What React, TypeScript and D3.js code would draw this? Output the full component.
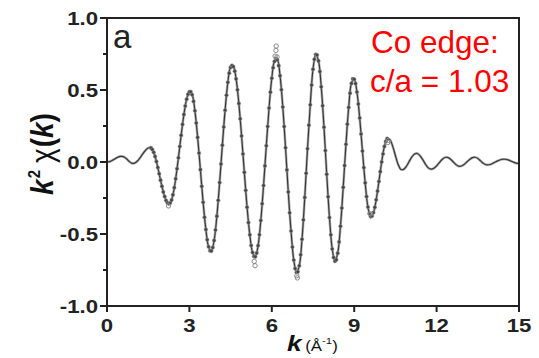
import React from 'react';
import * as d3 from 'd3';

const W = 539;
const H = 358;

// axis ticks
const xTicks = [0, 3, 6, 9, 12, 15];
const yTicks = [-1.0, -0.5, 0.0, 0.5, 1.0];
const yMinorTicks = [-0.75, -0.25, 0.25, 0.75];

// fit line: k from 0 to 15, step 0.1
const fitStartK = 0;
const fitStepK = 0.1;
const fitValues = [
  0, 0.003, 0.012, 0.023, 0.034, 0.039, 0.037, 0.024, 0.005, -0.008,
  -0.008, 0.005, 0.028, 0.056, 0.08, 0.097, 0.098, 0.067, 0.003, -0.082,
  -0.169, -0.24, -0.283, -0.285, -0.228, -0.117, 0.029, 0.186, 0.33, 0.436,
  0.487, 0.467, 0.356, 0.171, -0.053, -0.28, -0.469, -0.589, -0.618, -0.545,
  -0.376, -0.143, 0.117, 0.36, 0.553, 0.657, 0.662, 0.577, 0.407, 0.181,
  -0.072, -0.314, -0.506, -0.628, -0.658, -0.581, -0.406, -0.163, 0.113, 0.375,
  0.582, 0.699, 0.71, 0.599, 0.382, 0.099, -0.208, -0.479, -0.681, -0.767,
  -0.721, -0.536, -0.246, 0.092, 0.397, 0.644, 0.747, 0.702, 0.522, 0.242,
  -0.085, -0.386, -0.604, -0.689, -0.633, -0.446, -0.176, 0.123, 0.379, 0.546,
  0.575, 0.486, 0.306, 0.076, -0.145, -0.313, -0.379, -0.352, -0.263, -0.135,
  0.0, 0.108, 0.162, 0.155, 0.11, 0.045, -0.017, -0.052, -0.051, -0.03,
  0.003, 0.035, 0.056, 0.059, 0.043, 0.015, -0.017, -0.041, -0.05, -0.044,
  -0.027, -0.004, 0.017, 0.031, 0.032, 0.021, 0.002, -0.017, -0.029, -0.028,
  -0.017, 0.0, 0.017, 0.03, 0.033, 0.025, 0.008, -0.009, -0.019, -0.019,
  -0.014, -0.004, 0.006, 0.014, 0.019, 0.019, 0.015, 0.007, -0.001, -0.008,
  -0.01,
];

// measured data points: k from 1.6 to 10.2, step 0.05
const dataStartK = 1.6;
const dataStepK = 0.05;
const dataValues = [
  0.098, 0.087, 0.067, 0.038, 0.003, -0.038, -0.082, -0.126, -0.169, -0.208,
  -0.24, -0.267, -0.283, -0.29, -0.285, -0.264, -0.228, -0.178, -0.117, -0.047,
  0.029, 0.108, 0.186, 0.261, 0.33, 0.389, 0.436, 0.47, 0.487, 0.488,
  0.467, 0.421, 0.356, 0.27, 0.171, 0.062, -0.053, -0.169, -0.28, -0.384,
  -0.469, -0.54, -0.589, -0.616, -0.618, -0.594, -0.545, -0.472, -0.376, -0.266,
  -0.143, -0.014, 0.117, 0.243, 0.36, 0.464, 0.553, 0.617, 0.657, 0.67,
  0.662, 0.631, 0.577, 0.501, 0.407, 0.3, 0.181, 0.056, -0.072, -0.197,
  -0.314, -0.421, -0.506, -0.58, -0.628, -0.656, -0.658, -0.632, -0.581, -0.505,
  -0.406, -0.29, -0.163, -0.027, 0.113, 0.247, 0.375, 0.485, 0.582, 0.654,
  0.699, 0.719, 0.71, 0.669, 0.599, 0.502, 0.382, 0.246, 0.099, -0.055,
  -0.208, -0.353, -0.479, -0.591, -0.681, -0.74, -0.767, -0.763, -0.721, -0.644,
  -0.536, -0.402, -0.246, -0.078, 0.092, 0.256, 0.397, 0.534, 0.644, 0.713,
  0.747, 0.743, 0.702, 0.628, 0.522, 0.39, 0.242, 0.079, -0.085, -0.242,
  -0.386, -0.506, -0.604, -0.663, -0.689, -0.679, -0.633, -0.555, -0.446, -0.32,
  -0.176, -0.025, 0.123, 0.263, 0.379, 0.478, 0.546, 0.577, 0.575, 0.544,
  0.486, 0.403, 0.306, 0.194, 0.076, -0.039, -0.145, -0.24, -0.313, -0.359,
  -0.379, -0.375, -0.352, -0.315, -0.263, -0.202, -0.135, -0.067, 0.0, 0.056,
  0.108, 0.143, 0.162,
];

// scattered points that sit off the fit near the extrema
const outlierK = [2.24, 5.36, 5.39, 6.12, 6.19, 6.15, 6.16, 6.91, 6.93, 9.6, 10.22, 10.25];
const outlierV = [-0.305, -0.69, -0.72, 0.735, 0.73, 0.775, 0.805, -0.79, -0.805, -0.36, 0.135, 0.15];

const PLOT = { left: 107, right: 519, top: 18, bottom: 306 };

export default function App() {
  const x = d3.scaleLinear().domain([0, 15]).range([PLOT.left, PLOT.right]);
  const y = d3.scaleLinear().domain([-1, 1]).range([PLOT.bottom, PLOT.top]);

  const fitPts: [number, number][] = fitValues.map((v, i) => [fitStartK + i * fitStepK, v]);
  const dataPts: [number, number][] = dataValues.map((v, i) => [dataStartK + i * dataStepK, v]);
  const outPts: [number, number][] = outlierK.map((k, i) => [k, outlierV[i]]);

  const line = d3
    .line<[number, number]>()
    .x((d) => x(d[0]))
    .y((d) => y(d[1]))
    .curve(d3.curveCatmullRom.alpha(0.5));
  const fitPath = line(fitPts) || '';

  const axisColor = '#222';
  const tickFont = "'Liberation Sans', Arial, sans-serif";

  return (
    <svg
      width={W}
      height={H}
      viewBox={`0 0 ${W} ${H}`}
      style={{ position: 'absolute', left: 0, top: 0, background: '#fff' }}
    >
      <rect x={0} y={0} width={W} height={H} fill="#fff" />

      {/* curves */}
      <path d={fitPath} fill="none" stroke="#b4b4b4" strokeWidth={2.6} strokeLinejoin="round" />
      <path d={fitPath} fill="none" stroke="#383838" strokeWidth={1.2} strokeLinejoin="round" />
      {dataPts.map((d, i) => (
        <circle key={'d' + i} cx={x(d[0])} cy={y(d[1])} r={1.8} fill="#444" stroke="#999" strokeWidth={0.5} />
      ))}
      {outPts.map((d, i) => (
        <circle key={'o' + i} cx={x(d[0])} cy={y(d[1])} r={2.2} fill="none" stroke="#8a8a8a" strokeWidth={1} />
      ))}

      {/* frame */}
      <rect
        x={PLOT.left}
        y={PLOT.top}
        width={PLOT.right - PLOT.left}
        height={PLOT.bottom - PLOT.top}
        fill="none"
        stroke={axisColor}
        strokeWidth={2}
      />

      {/* y ticks */}
      {yTicks.map((t) => (
        <g key={'yt' + t}>
          <line x1={PLOT.left - 7} x2={PLOT.left} y1={y(t)} y2={y(t)} stroke={axisColor} strokeWidth={2} />
          <text
            transform={`translate(${PLOT.left - 9},${y(t) + 6.6}) scale(1.2,1)`}
            textAnchor="end"
            fontFamily={tickFont}
            fontWeight="bold"
            fontSize={18.5}
            fill="#222"
          >
            {t.toFixed(1)}
          </text>
        </g>
      ))}
      {yMinorTicks.map((t) => (
        <line key={'ym' + t} x1={PLOT.left - 4} x2={PLOT.left} y1={y(t)} y2={y(t)} stroke={axisColor} strokeWidth={2} />
      ))}

      {/* x ticks */}
      {xTicks.map((t) => (
        <g key={'xt' + t}>
          <line x1={x(t)} x2={x(t)} y1={PLOT.bottom} y2={PLOT.bottom + 6} stroke={axisColor} strokeWidth={2} />
          <text
            transform={`translate(${x(t)},${PLOT.bottom + 26}) scale(1.2,1)`}
            textAnchor="middle"
            fontFamily={tickFont}
            fontWeight="bold"
            fontSize={18.5}
            fill="#222"
          >
            {t}
          </text>
        </g>
      ))}

      {/* y axis label */}
      <text
        transform={`translate(53,154) scale(1.12,1) rotate(-90)`}
        textAnchor="middle"
        fontFamily={tickFont}
        fontSize={28}
        fill="#111"
      >
        <tspan fontWeight="bold" fontStyle="italic">k</tspan>
        <tspan fontSize={15} dy={-12} dx={1} fontWeight="bold">2</tspan>
        <tspan dy={12} dx={7}>χ</tspan>
        <tspan fontWeight="bold" dx={1}>(</tspan>
        <tspan fontWeight="bold" fontStyle="italic">k</tspan>
        <tspan fontWeight="bold">)</tspan>
      </text>

      {/* x axis label */}
      <text transform={`translate(287,351) scale(1.2,1)`} fontFamily={tickFont} fill="#111">
        <tspan fontWeight="bold" fontStyle="italic" fontSize={22}>k</tspan>
        <tspan fontSize={14} dx={3}>(Å</tspan>
        <tspan fontSize={9.5} dy={-7}>-1</tspan>
        <tspan fontSize={14} dy={7}>)</tspan>
      </text>

      {/* panel letter */}
      <text x={113} y={48} fontFamily={tickFont} fontSize={33} fill="#222">a</text>

      {/* annotation */}
      <text x={371} y={53} fontFamily={tickFont} fontSize={31.5} fill="#ff0000">Co edge:</text>
      <text x={370} y={92} fontFamily={tickFont} fontSize={31.5} fill="#ff0000">c/a = 1.03</text>
    </svg>
  );
}
